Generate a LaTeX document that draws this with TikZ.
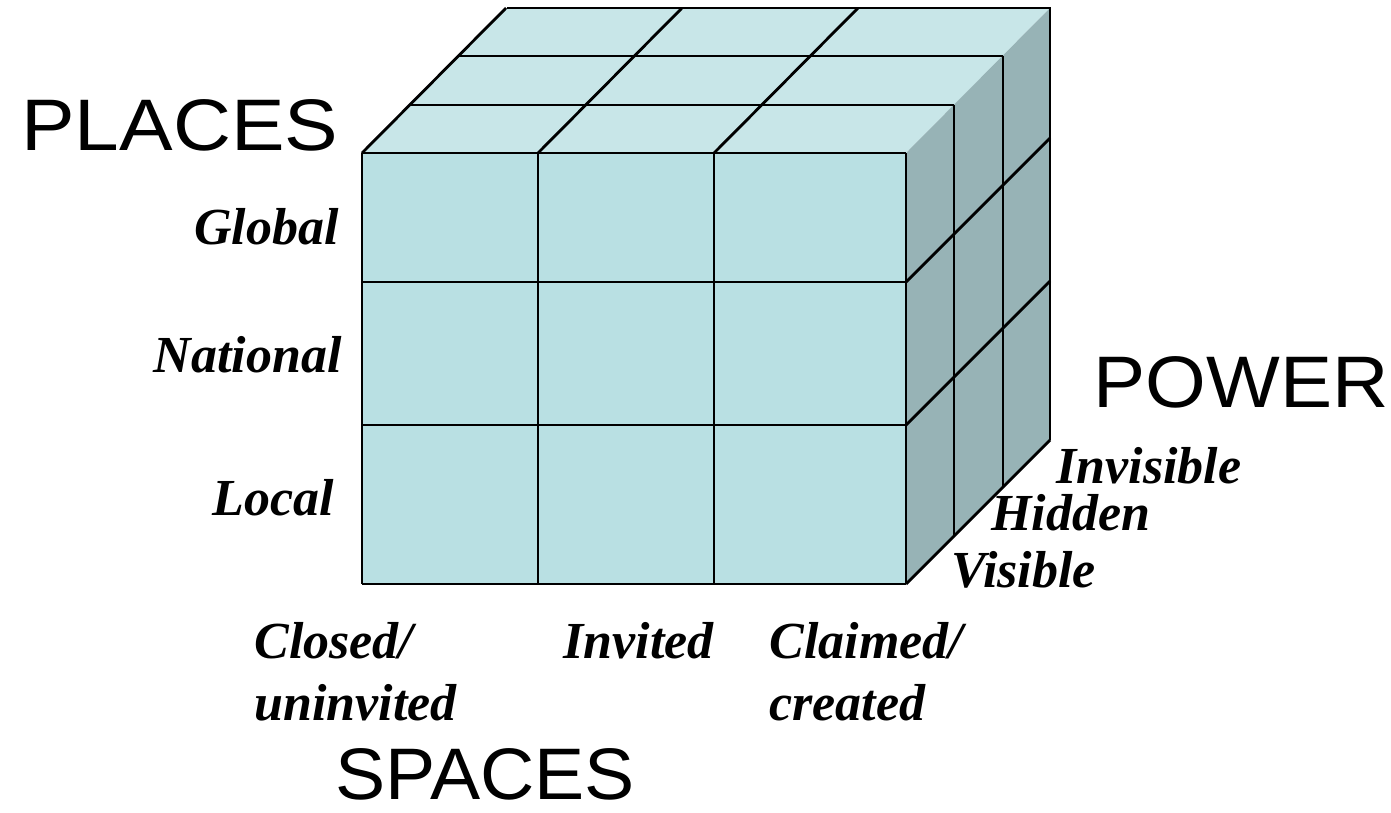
\documentclass[tikz,border=0pt]{standalone}
\usepackage{fontspec}
\newfontfamily\axisfont{Liberation Sans}
\newfontfamily\levelfont{Liberation Serif}
\definecolor{frontface}{RGB}{185,224,227}
\definecolor{topface}{RGB}{200,230,232}
\definecolor{sideface}{RGB}{151,179,182}
\begin{document}
\begin{tikzpicture}[x=1pt, y=-1pt, line width=2.8pt, line join=round,
  axis/.style={inner sep=0, text depth=0pt, font=\axisfont\fontsize{73}{80}\selectfont},
  level/.style={inner sep=0, align=left, font=\levelfont\bfseries\itshape\fontsize{52}{62}\selectfont}]
\useasboundingbox (0,0) rectangle (1391,812);
% faces of the cube
\fill[topface] (362,153) -- (506,8) -- (1050,8) -- (906,153) -- cycle;
\fill[sideface] (906,153) -- (1050,8) -- (1050,440) -- (906,584) -- cycle;
\fill[frontface] (362,153) rectangle (906,584);
% front grid
\foreach \x in {362,538,714,906} \draw (\x,153) -- (\x,584);
\foreach \y in {153,282,425,584} \draw (362,\y) -- (906,\y);
% top grid
\foreach \d in {48,97,145} \draw (362+\d,153-\d) -- (906+\d,153-\d);
\foreach \x in {362,538,714} \draw (\x,153) -- (\x+144,8);
% side grid
\foreach \d in {48,97,144} \draw (906+\d,153-\d) -- (906+\d,584-\d);
\foreach \y in {282,425,584} \draw (906,\y) -- (1050,\y-144);
% axis names
\node[axis, anchor=base west] (places) at (20,150) {\scalebox{1.1}[1]{PLACES}};
\node[axis, anchor=base west] (power) at (1092,407) {\scalebox{1.07}[1]{POWER}};
\node[axis, anchor=base west] (spaces) at (334,799) {\scalebox{1.03}[1]{SPACES}};
% places
\node[level, anchor=base east] (global) at (340,244) {Global};
\node[level, anchor=base east] (national) at (343,372) {National};
\node[level, anchor=base east] (local) at (335,515) {Local};
% power
\node[level, anchor=base west] (invisible) at (1055,483) {Invisible};
\node[level, anchor=base west] (hidden) at (990,530) {Hidden};
\node[level, anchor=base west] (visible) at (950,587) {Visible};
% spaces
\node[level, anchor=base west] (closed) at (253,720) {Closed/\\uninvited};
\node[level, anchor=base west] (invited) at (562,658) {Invited};
\node[level, anchor=base west] (claimed) at (768,720) {Claimed/\\created};
\end{tikzpicture}
\end{document}
